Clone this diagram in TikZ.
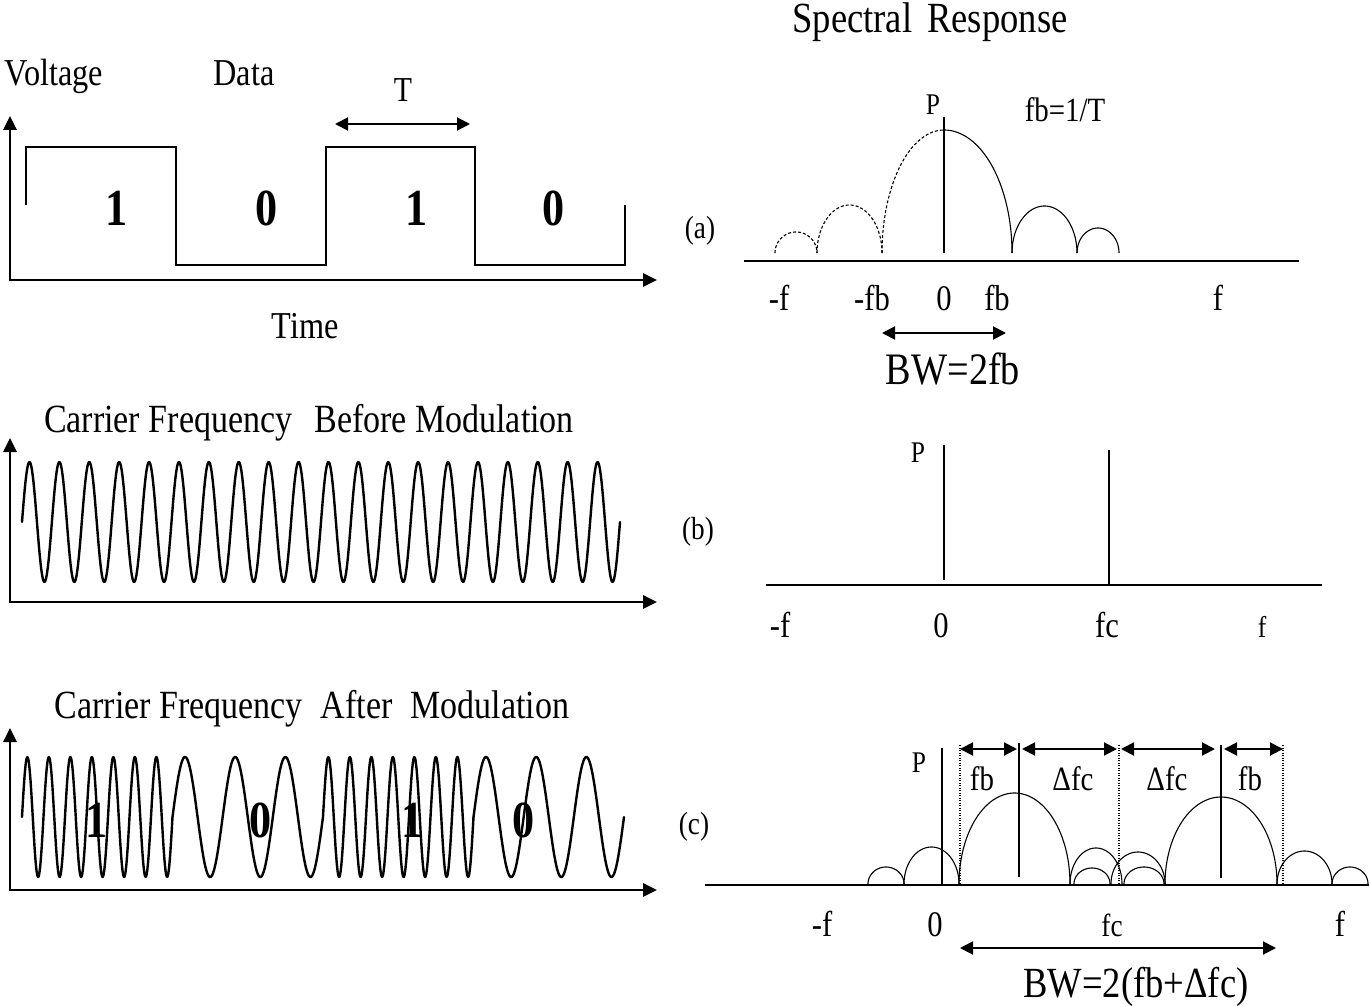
\documentclass[tikz,border=0pt]{standalone}
\usepackage{fontspec}
\setmainfont{Liberation Serif}[FakeStretch=0.85]
\usepackage{tikz}
\usetikzlibrary{arrows.meta}

\newcommand{\fsz}[1]{\fontsize{#1}{#1}\selectfont}
% spectral lobe: centre x, base y, x radius, y radius
\newcommand{\lobe}[5][]{%
  \draw[spec,domain=180:0,samples=60,#1] plot[variable=\t] ({#2+#4*cos(\t)},{#3-#5*sin(\t)});}

\begin{document}
\begin{tikzpicture}[x=1pt,y=-1pt,
  axes/.style={line width=2.6pt,line join=miter,{Triangle[length=14pt,width=13pt]}-{Triangle[length=14pt,width=13pt]}},
  wave/.style={line width=2.4pt,line join=round,line cap=round},
  spec/.style={line width=1.1pt},
  base/.style={line width=2pt},
  dim/.style={line width=2pt,{Triangle[length=13pt,width=13pt]}-{Triangle[length=13pt,width=13pt]}},
  lbl/.style={anchor=base,inner sep=0pt,font=\fsz{#1}},
  lbl/.default=38,
  digit/.style={anchor=base,inner sep=0pt,font=\fsz{52}\bfseries}]
  \useasboundingbox (0,0) rectangle (1370,1006);

  % Data signal
  \node[lbl] (volt) at (54,86) {Voltage};
  \node[lbl] (data) at (244,86) {Data};
  \node[lbl=35] (tper) at (403,102) {T};
  \coordinate (tl) at (335,124);
  \coordinate (tr) at (470,124);
  \draw[dim] (tl) -- (tr);
  \coordinate (y1) at (10,116);
  \coordinate (x1) at (657,280);
  \draw[axes] (y1) |- (x1);
  \draw[wave,line join=miter,line cap=butt] (26,205) -- (26,147) -- (176,147) -- (176,265) -- (326,265)
    -- (326,147) -- (475,147) -- (475,265) -- (625,265) -- (625,205);
  \node[digit] (b1) at (117,225) {1};
  \node[digit] (b2) at (267,225) {0};
  \node[digit] (b3) at (417,225) {1};
  \node[digit] (b4) at (554,225) {0};
  \node[lbl] (time) at (305,338) {Time};

  % Carrier before modulation
  \node[lbl=40] (cbef) at (309,432) {Carrier Frequency\hspace{0.55em}Before Modulation};
  \coordinate (y2) at (10,438);
  \coordinate (x2) at (657,602);
  \draw[axes] (y2) |- (x2);
  \draw[wave] plot[domain=22:620,samples=900] (\x,{522-60*sin(360/29.9*(\x-22))});

  % Carrier after modulation (FSK)
  \node[lbl=40] (caft) at (312,718) {Carrier Frequency\hspace{0.45em}After\hspace{0.45em}Modulation};
  \coordinate (y3) at (10,728);
  \coordinate (x3) at (657,890);
  \draw[axes] (y3) |- (x3);
  \foreach \xs/\n in {22/7,172.5/3,323/7,473.5/3}
    \draw[wave] plot[domain=\xs:\xs+150.5,samples=300] (\x,{817-60*sin(360*\n/150.5*(\x-\xs))});
  \node[digit] (m1) at (97,837) {1};
  \node[digit] (m2) at (261,837) {0};
  \node[digit] (m3) at (413,837) {1};
  \node[digit] (m4) at (524,837) {0};

  % Spectral response (a)
  \node[lbl=43] (spec) at (930,33) {Spectral\hspace{0.35em}Response};
  \node[lbl=32,anchor=center] (la) at (700,231) {(a)};
  \draw[base] (744,261) -- (1299,261);
  \draw[spec] (944,117) -- (944,253);
  \lobe[dash pattern=on 3pt off 2pt]{796}{253}{21}{21}
  \lobe[dash pattern=on 3pt off 2pt]{849.5}{253}{32.5}{48}
  \lobe[dash pattern=on 3pt off 2pt,domain=180:90]{944}{253}{62}{123}
  \lobe[domain=90:0]{944}{253}{68}{123}
  \lobe{1044.5}{253}{32.5}{47}
  \lobe{1098}{253}{21}{25}
  \node[lbl=30] (pa) at (933,115) {P};
  \node[lbl=34] (fbt) at (1065,122) {fb=1/T};
  \node[lbl=36] (ana) at (779,310) {-f};
  \node[lbl=36] (anb) at (872,310) {-fb};
  \node[lbl=36] (anc) at (944,310) {0};
  \node[lbl=36] (and) at (997,310) {fb};
  \node[lbl=36] (ane) at (1218,310) {f};
  \coordinate (bal) at (882,333);
  \coordinate (bar) at (1006,333);
  \draw[dim] (bal) -- (bar);
  \node[lbl=45] (bwa) at (953,384) {BW=2fb};

  % Spectral response (b)
  \node[lbl=32,anchor=center] (lb) at (698,532) {(b)};
  \draw[base] (766,585) -- (1322,585);
  \draw[spec] (944,445) -- (944,580);
  \draw[spec] (1109,450) -- (1109,585);
  \node[lbl=30] (pb) at (918,462) {P};
  \node[lbl=36] (bna) at (780,637) {-f};
  \node[lbl=36] (bnb) at (941,637) {0};
  \node[lbl=36] (bnc) at (1107,637) {fc};
  \node[lbl=30] (bnd) at (1262,637) {f};

  % Spectral response (c)
  \node[lbl=32,anchor=center] (lc) at (694,827) {(c)};
  \draw[base] (705,885) -- (1369,885);
  \lobe{886}{884}{18}{17}
  \lobe{931.5}{884}{27.5}{37}
  \lobe{1014.5}{884}{55.5}{91}
  \lobe{1096}{884}{26}{36}
  \lobe{1144}{884}{20}{17}
  \lobe{1092}{884}{18}{16}
  \lobe{1138}{884}{27}{32}
  \lobe{1221}{884}{56}{87}
  \lobe{1304.5}{884}{27.5}{33}
  \lobe{1350}{884}{18}{17}
  \draw[spec] (942,748) -- (942,884);
  \draw[spec] (1019,743) -- (1019,877);
  \draw[spec] (1221,745) -- (1221,878);
  \draw[spec,dash pattern=on 1pt off 1.5pt] (960,745) -- (960,884);
  \draw[spec,dash pattern=on 1pt off 1.5pt] (1119,745) -- (1119,884);
  \draw[spec,dash pattern=on 1pt off 1.5pt] (1283,745) -- (1283,884);
  \coordinate (v1) at (960,749);
  \coordinate (v2) at (1019,749);
  \coordinate (v3) at (1119,749);
  \coordinate (v4) at (1221,749);
  \coordinate (v5) at (1283,749);
  \draw[dim,shorten >=2pt] (v1) -- (v2);
  \draw[dim,shorten <=3pt,shorten >=2pt] (v2) -- (v3);
  \draw[dim,shorten <=2pt,shorten >=6pt] (v3) -- (v4);
  \draw[dim,shorten <=3pt] (v4) -- (v5);
  \node[lbl=30] (pc) at (919,772) {P};
  \node[lbl=34] (cfa) at (982,790) {fb};
  \node[lbl=34] (cfb) at (1073,790) {Δfc};
  \node[lbl=34] (cfc) at (1167,790) {Δfc};
  \node[lbl=34] (cfd) at (1250,790) {fb};
  \node[lbl=36] (cna) at (822,936) {-f};
  \node[lbl=36] (cnb) at (935,936) {0};
  \node[lbl=32] (cnc) at (1112,936) {fc};
  \node[lbl=36] (cnd) at (1340,936) {f};
  \coordinate (bcl) at (960,948);
  \coordinate (bcr) at (1276,948);
  \draw[dim] (bcl) -- (bcr);
  \node[lbl=43] (bwc) at (1136,997) {BW=2(fb+Δfc)};
\end{tikzpicture}
\end{document}
